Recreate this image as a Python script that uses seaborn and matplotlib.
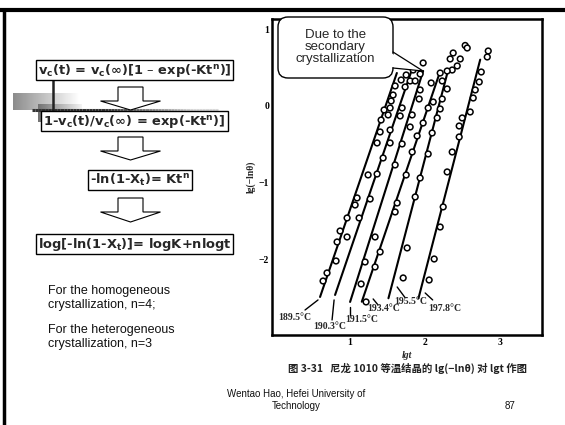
import matplotlib
matplotlib.use("Agg")
import matplotlib.pyplot as plt
import numpy as np
import pandas as pd
import seaborn as sns
from matplotlib.patches import FancyBboxPatch, Polygon

# ---------------- data ----------------
temps = ["189.5°C", "190.3°C", "191.5°C", "193.4°C", "195.5°C", "197.8°C"]

t1895_x = [1.600, 1.573, 1.547, 1.533, 1.453, 1.507, 1.413, 1.400, 1.360, 1.240, 1.093, 1.067, 0.960, 0.867, 0.960, 0.827, 0.813, 0.693, 0.640]
t1895_y = [0.261, 0.143, 0.065, -0.026, -0.052, -0.117, -0.183, -0.339, -0.482, -0.899, -1.199, -1.291, -1.460, -1.630, -1.708, -1.773, -2.021, -2.177, -2.282]

t1903_x = [1.840, 1.747, 1.680, 1.800, 1.733, 1.693, 1.667, 1.533, 1.533, 1.440, 1.360, 1.267, 1.120]
t1903_y = [0.469, 0.404, 0.339, 0.326, 0.248, -0.026, -0.130, -0.313, -0.482, -0.678, -0.887, -1.213, -1.460]

t1915_x = [1.973, 1.933, 1.867, 1.933, 1.920, 1.827, 1.800, 1.693, 1.600, 1.333, 1.200, 1.147]
t1915_y = [0.561, 0.417, 0.326, 0.209, 0.091, -0.117, -0.274, -0.495, -0.769, -1.708, -2.034, -2.321]

t1934_x = [2.200, 2.227, 2.080, 2.107, 2.040, 1.973, 1.893, 1.827, 1.747, 1.627, 1.600, 1.400, 1.333, 1.213]
t1934_y = [0.430, 0.326, 0.300, 0.052, -0.026, -0.222, -0.391, -0.600, -0.900, -1.265, -1.382, -1.903, -2.099, -2.555]

t1955_x = [2.533, 2.560, 2.373, 2.333, 2.467, 2.427, 2.360, 2.293, 2.293, 2.227, 2.200, 2.160, 2.093, 2.040, 1.933, 1.867, 1.760, 1.707]
t1955_y = [0.789, 0.756, 0.691, 0.613, 0.613, 0.522, 0.469, 0.456, 0.222, 0.091, -0.039, -0.156, -0.352, -0.626, -0.939, -1.186, -1.851, -2.242]

t1978_x = [2.840, 2.827, 2.747, 2.720, 2.667, 2.640, 2.600, 2.493, 2.453, 2.453, 2.360, 2.293, 2.240, 2.200, 2.120, 2.053]
t1978_y = [0.717, 0.639, 0.443, 0.313, 0.209, 0.104, -0.078, -0.156, -0.261, -0.404, -0.600, -0.860, -1.316, -1.578, -1.995, -2.269]

# straight fitted lines drawn on the original figure (start / end)
line_x0 = [0.600, 0.800, 1.000, 1.156, 1.511, 1.911]
line_y0 = [-2.490, -2.464, -2.555, -2.552, -2.507, -2.507]
line_x1 = [1.623, 1.823, 1.973, 2.200, 2.307, 2.733]
line_y1 = [0.430, 0.473, 0.456, 0.452, 0.473, 0.604]

x_ticks = [1, 2, 3]
y_ticks = [1, 0, -1, -2]
y_ticklabels = ["1", "0", "\u22121", "\u22122"]

# ---------------- frames ----------------
xs = [t1895_x, t1903_x, t1915_x, t1934_x, t1955_x, t1978_x]
ys = [t1895_y, t1903_y, t1915_y, t1934_y, t1955_y, t1978_y]
pts = pd.concat([pd.DataFrame({"lgt": x, "val": y, "T": t}) for x, y, t in zip(xs, ys, temps)],
                ignore_index=True)
lines = pd.DataFrame({
    "lgt": line_x0 + line_x1,
    "val": line_y0 + line_y1,
    "T": temps + temps,
})

# ---------------- style ----------------
sns.set_theme(style="white")
plt.rcParams["font.family"] = ["DejaVu Sans", "Noto Sans CJK SC"]
plt.rcParams["mathtext.fontset"] = "dejavusans"
plt.rcParams["mathtext.default"] = "bf"

W, H = 565, 425
fig = plt.figure(figsize=(W / 100, H / 100), dpi=100)
fig.patch.set_facecolor("white")

# chart axes (pixel frame: x 272..542, y 19..335)
ax = fig.add_axes([272 / W, 1 - 335 / H, (542 - 272) / W, (335 - 19) / H])
ax.set_zorder(1)
ax.set_facecolor("white")

sns.lineplot(data=lines, x="lgt", y="val", hue="T", palette=["black"] * 6,
             estimator=None, sort=False, legend=False, lw=1.5, ax=ax)
sns.scatterplot(data=pts, x="lgt", y="val", hue="T", palette=["white"] * 6,
                edgecolor="black", linewidth=1.1, s=17, legend=False, ax=ax, zorder=3)

ax.set_xlim(-0.04, 3.556)
ax.set_ylim(-2.986, 1.134)
for s in ax.spines.values():
    s.set_color("black")
    s.set_linewidth(1.8)
ax.set_xticks(x_ticks)
ax.set_xticklabels([str(v) for v in x_ticks])
ax.set_yticks(y_ticks)
ax.set_yticklabels(y_ticklabels)
ax.tick_params(direction="in", length=4, width=1.2, colors="black", pad=2,
               labelsize=7)
for lab in ax.get_xticklabels() + ax.get_yticklabels():
    lab.set_fontfamily("Liberation Serif")
    lab.set_fontweight("bold")
ax.set_xlabel("lgt", fontfamily="Liberation Serif", fontstyle="italic",
              fontsize=7, fontweight="bold", labelpad=3)
ax.set_ylabel("lg(\u2212ln\u03b8)", fontfamily="Liberation Serif",
              fontsize=7, fontweight="bold", labelpad=2)

# temperature labels with leader lines
lab_pos = [(0.267, -2.764), (0.733, -2.881), (1.16, -2.79),
           (1.453, -2.647), (1.813, -2.555), (2.267, -2.647)]
leaders = [((0.573, -2.529), (0.40, -2.66)), ((0.787, -2.529), (0.76, -2.79)),
           ((1.0, -2.62), (1.0, -2.725)), ((1.307, -2.516), (1.373, -2.595)),
           ((1.627, -2.36), (1.733, -2.50)), ((2.0, -2.438), (2.10, -2.529))]
for t, (lx, ly), (p0, p1) in zip(temps, lab_pos, leaders):
    ax.text(lx, ly, t, ha="center", va="center", fontsize=7,
            fontfamily="Liberation Serif", fontweight="bold")
    ax.plot([p0[0], p1[0]], [p0[1], p1[1]], color="black", lw=1.0)

# ---------------- slide overlay (pixel coordinates) ----------------
ov = fig.add_axes([0, 0, 1, 1])
ov.set_zorder(2)
ov.patch.set_visible(False)
ov.axis("off")

# slide borders
ov.plot([0, W], [10, 10], color="black", lw=3, solid_capstyle="butt")
ov.plot([4, 4], [10, H], color="black", lw=2.5, solid_capstyle="butt")

# gray artifact near first box
grad = np.tile(np.linspace(0.55, 1.0, 64), (16, 1))
ov.imshow(grad, cmap="gray", vmin=0, vmax=1, extent=(13, 80, 110, 93), aspect="auto", zorder=1)
grad2 = np.tile(np.linspace(0.45, 0.95, 64), (16, 1))
ov.imshow(grad2, cmap="gray", vmin=0, vmax=1, extent=(38, 82, 122, 104), aspect="auto", zorder=1)
hx = np.linspace(32, 218, 60)
for i in range(len(hx) - 1):
    c = min(0.2 + max(0, (hx[i] - 100)) / 140, 0.85)
    ov.plot(hx[i:i + 2], [110, 110], color=str(c), lw=2.2, solid_capstyle="butt", zorder=2)
ov.plot([53, 53], [78, 126], color="#222222", lw=1.8, zorder=2)
ov.set_xlim(0, W)
ov.set_ylim(H, 0)

# formula boxes
box_kw = dict(boxstyle="square,pad=0.15", fc="white", ec="black", lw=1.0)
fsz = 9.4
ov.text(134.5, 70, r"v$_c$(t) = v$_c$($\infty$)[1 – exp(-Kt$^n$)]", ha="center", va="center",
        fontsize=fsz, fontweight="bold", bbox=box_kw, zorder=3)
ov.text(134.5, 121, r"1-v$_c$(t)/v$_c$($\infty$) = exp(-Kt$^n$)]", ha="center", va="center",
        fontsize=fsz, fontweight="bold", bbox=box_kw, zorder=3)
ov.text(140, 180, r"-ln(1-X$_t$)= Kt$^n$", ha="center", va="center",
        fontsize=fsz, fontweight="bold", bbox=box_kw, zorder=3)
ov.text(134.5, 244, r"log[-ln(1-X$_t$)]= logK+nlogt", ha="center", va="center",
        fontsize=fsz, fontweight="bold", bbox=box_kw, zorder=3)

# hollow down arrows
def hollow_arrow(top, mid, tip, cx=130.5):
    pts_ = [(cx - 12.5, top), (cx + 12.5, top), (cx + 12.5, mid), (cx + 30, mid),
            (cx, tip), (cx - 30, mid), (cx - 12.5, mid)]
    ov.add_patch(Polygon(pts_, closed=True, fc="white", ec="black", lw=0.8, zorder=2.5))

hollow_arrow(87, 101, 110)
hollow_arrow(137, 151, 160)
hollow_arrow(198, 212, 222)

# body text
body = dict(fontsize=9, fontfamily="Liberation Sans", ha="left", va="center", color="#111111")
ov.text(48, 291, "For the homogeneous", **body)
ov.text(48, 305, "crystallization, n=4;", **body)
ov.text(48, 330, "For the heterogeneous", **body)
ov.text(48, 344, "crystallization, n=3", **body)

# footer
foot = dict(fontsize=7, fontfamily="Liberation Sans", color="#111111")
ov.text(296, 394, "Wentao Hao, Hefei University of", ha="center", va="center", **foot)
ov.text(296, 406, "Technology", ha="center", va="center", **foot)
ov.text(510, 406, "87", ha="center", va="center", **foot)

# caption
ov.text(408, 368, "图 3-31   尼龙 1010 等温结晶的 lg(\u2212ln\u03b8) 对 lgt 作图", ha="center", va="center",
        fontsize=7.5, family=["Noto Sans CJK SC", "DejaVu Sans"], fontweight="bold", color="#222222")

# callout
ov.add_patch(FancyBboxPatch((278, 17), 115, 61, boxstyle="round,pad=0,rounding_size=10",
                            fc="white", ec="black", lw=1.0, zorder=4))
ov.add_patch(Polygon([(391, 53), (423, 71), (391, 67)], closed=True, fc="white", ec="none", zorder=4.5))
ov.plot([393, 423, 393], [52, 71, 68], color="black", lw=0.9, zorder=5)
ov.text(335.5, 47, "Due to the\nsecondary\ncrystallization", ha="center", va="center",
        fontsize=9.5, fontfamily="Liberation Sans", linespacing=1.05, zorder=6)

fig.savefig("out.png", dpi=100, facecolor="white")
